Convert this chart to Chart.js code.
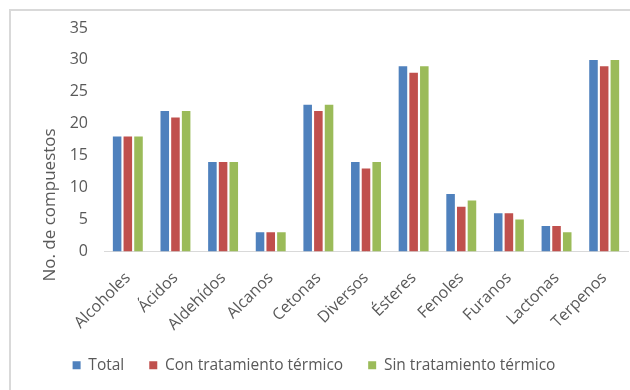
<!DOCTYPE html>
<html>
<head>
<meta charset="utf-8">
<script src="https://cdn.jsdelivr.net/npm/chart.js@4.4.1/dist/chart.umd.min.js"></script>
<style>
  html, body { margin: 0; padding: 0; background: #fff; overflow: hidden; }
  #frame { position: absolute; left: 9px; top: 9px; width: 700px; height: 500px;
           border-top: 2px solid #d9d9d9; border-left: 2px solid #d9d9d9; }
  #wrap { position: absolute; left: 0; top: 0; width: 630px; height: 390px; }
</style>
</head>
<body>
<div id="frame"></div>
<div id="wrap"><canvas id="c" width="630" height="390"></canvas></div>
<script>
const categories = ['Alcoholes', 'Ácidos', 'Aldehídos', 'Alcanos', 'Cetonas', 'Diversos', 'Ésteres', 'Fenoles', 'Furanos', 'Lactonas', 'Terpenos'];
const totalValues = [18, 22, 14, 3, 23, 14, 29, 9, 6, 4, 30];
const conTratamiento = [18, 21, 14, 3, 22, 13, 28, 7, 6, 4, 29];
const sinTratamiento = [18, 22, 14, 3, 23, 14, 29, 8, 5, 3, 30];
const seriesNames = ['Total', 'Con tratamiento térmico', 'Sin tratamiento térmico'];
const yTitle = 'No. de compuestos';
const yMax = 35;
const yStep = 5;

const FONT = '"Open Sans", "Noto Sans", sans-serif';
const TXT = '#595959';

const yTitlePlugin = {
  id: 'yTitle',
  afterDraw(chart) {
    const ctx = chart.ctx;
    ctx.save();
    ctx.translate(50, 205);
    ctx.rotate(-Math.PI / 2);
    ctx.font = '17px ' + FONT;
    ctx.fillStyle = TXT;
    ctx.textAlign = 'center';
    ctx.textBaseline = 'middle';
    ctx.fillText(yTitle, 0, 0);
    ctx.restore();
  }
};

new Chart(document.getElementById('c'), {
  type: 'bar',
  data: {
    labels: categories,
    datasets: [
      { label: seriesNames[0], data: totalValues, backgroundColor: '#4F81BD' },
      { label: seriesNames[1], data: conTratamiento, backgroundColor: '#C0504D' },
      { label: seriesNames[2], data: sinTratamiento, backgroundColor: '#9BBB59' }
    ]
  },
  options: {
    responsive: false,
    animation: false,
    devicePixelRatio: 1,
    layout: { padding: { left: 0, right: 2, top: 28, bottom: 7 } },
    datasets: { bar: { categoryPercentage: 0.673, barPercentage: 0.8, borderWidth: 0 } },
    plugins: {
      tooltip: { enabled: false },
      legend: {
        position: 'bottom',
        labels: {
          boxWidth: 8, boxHeight: 8, padding: 25,
          color: TXT, font: { family: FONT, size: 15.5 }
        }
      }
    },
    scales: {
      x: {
        grid: { display: false },
        border: { display: true, color: '#d9d9d9', width: 1 },
        ticks: { color: TXT, font: { family: FONT, size: 16 }, minRotation: 45, maxRotation: 45, padding: 9 },
        afterFit(scale) { scale.height = 81; }
      },
      y: {
        min: 0, max: yMax,
        grid: { display: false, drawTicks: false },
        border: { display: false },
        ticks: { stepSize: yStep, color: TXT, font: { family: FONT, size: 16 }, padding: 16 },
        afterFit(scale) { scale.width = 104; }
      }
    }
  },
  plugins: [yTitlePlugin]
});
</script>
</body>
</html>
